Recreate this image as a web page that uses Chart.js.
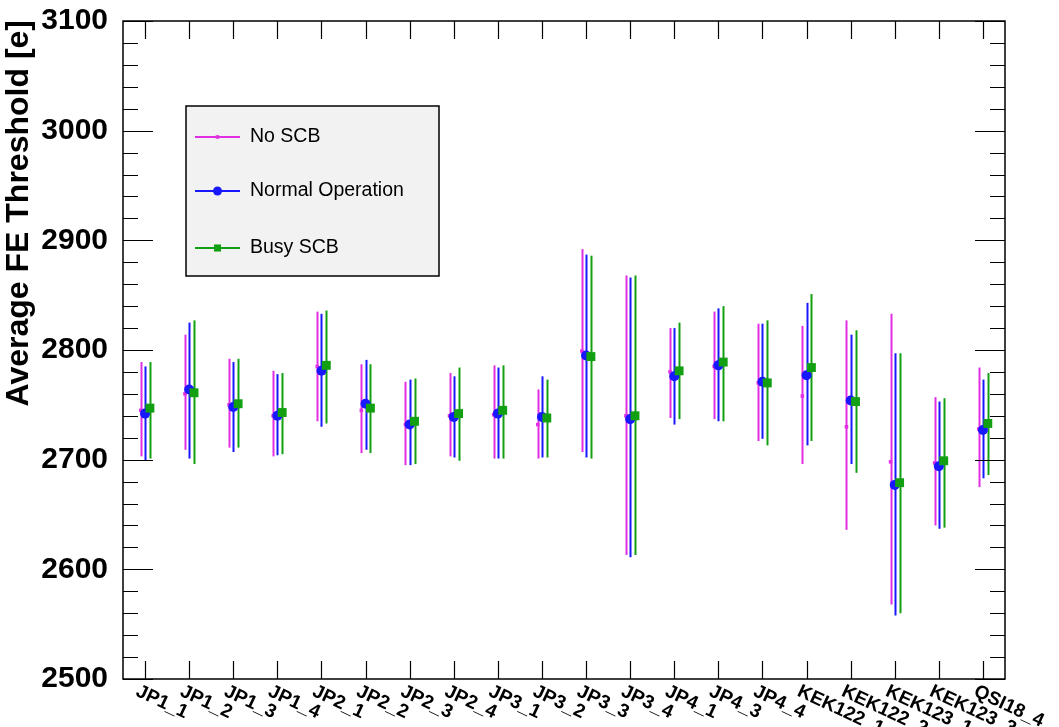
<!DOCTYPE html>
<html lang="en">
<head>
    <meta charset="UTF-8">
    <title>Average FE Threshold</title>
    <script src="https://cdn.jsdelivr.net/npm/chart.js"></script>
    <style>
        body {
            margin: 0;
            background-color: #FFFFFF;
        }
    </style>
</head>
<body>
    <canvas id="myChart" width="1059" height="727"></canvas>

    <script>
        var categories = ['JP1_1', 'JP1_2', 'JP1_3', 'JP1_4', 'JP2_1', 'JP2_2', 'JP2_3', 'JP2_4', 'JP3_1', 'JP3_2',
                          'JP3_3', 'JP3_4', 'JP4_1', 'JP4_3', 'JP4_4', 'KEK122_1', 'KEK122_2', 'KEK123_1', 'KEK123_3', 'QSI18_4'];

        // No SCB
        var noScb     = [2745, 2760, 2750, 2740, 2785, 2745, 2732, 2740, 2741, 2732, 2799, 2740, 2780, 2785, 2770, 2758, 2730, 2698, 2697, 2728];
        var noScbLow  = [2703, 2709, 2711, 2703, 2735, 2706, 2695, 2703, 2701, 2701, 2707, 2613, 2738, 2737, 2717, 2696, 2636, 2568, 2640, 2675];
        var noScbHigh = [2789, 2814, 2792, 2781, 2835, 2787, 2771, 2779, 2786, 2764, 2892, 2868, 2820, 2835, 2824, 2822, 2827, 2833, 2757, 2784];

        // Normal Operation
        var normal     = [2742, 2764, 2748, 2740, 2781, 2751, 2732, 2739, 2742, 2739, 2795, 2737, 2776, 2786, 2771, 2777, 2754, 2677, 2694, 2727];
        var normalLow  = [2699, 2701, 2707, 2704, 2730, 2709, 2695, 2702, 2701, 2702, 2702, 2611, 2732, 2735, 2719, 2713, 2696, 2558, 2637, 2683];
        var normalHigh = [2785, 2825, 2789, 2778, 2833, 2791, 2773, 2776, 2784, 2776, 2887, 2866, 2820, 2838, 2824, 2843, 2814, 2797, 2753, 2773];

        // Busy SCB
        var busy     = [2747, 2761, 2751, 2743, 2786, 2747, 2735, 2742, 2745, 2738, 2794, 2740, 2781, 2789, 2770, 2784, 2753, 2679, 2699, 2733];
        var busyLow  = [2701, 2696, 2711, 2705, 2733, 2706, 2696, 2699, 2701, 2702, 2701, 2613, 2737, 2735, 2713, 2717, 2688, 2560, 2638, 2686];
        var busyHigh = [2789, 2827, 2792, 2779, 2836, 2787, 2774, 2784, 2786, 2773, 2886, 2868, 2825, 2840, 2827, 2851, 2818, 2797, 2756, 2779];

        var yTicks = [2500, 2600, 2700, 2800, 2900, 3000, 3100];

        var fontFamily = "'Liberation Sans', Arial, Helvetica, sans-serif";

        function points(values, low, high, shift) {
            return values.map(function(v, i) {
                return { x: i + 0.5 + shift, y: v, low: low[i], high: high[i] };
            });
        }

        var ctx = document.getElementById('myChart').getContext('2d');

        // ROOT-like frame, inner ticks, error bars, labels and legend
        var rootStyle = {
            id: 'rootStyle',
            beforeDatasetsDraw: function(chart) {
                var c = chart.ctx, xs = chart.scales.x, ys = chart.scales.y;
                chart.data.datasets.forEach(function(ds) {
                    c.save();
                    c.strokeStyle = ds.borderColor;
                    c.lineWidth = 2;
                    ds.data.forEach(function(p) {
                        var px = Math.round(xs.getPixelForValue(p.x)) + 0.5;
                        c.beginPath();
                        c.moveTo(px, ys.getPixelForValue(p.low));
                        c.lineTo(px, ys.getPixelForValue(p.high));
                        c.stroke();
                    });
                    c.restore();
                });
            },
            afterDraw: function(chart) {
                var c = chart.ctx, a = chart.chartArea, xs = chart.scales.x, ys = chart.scales.y;
                c.save();
                c.strokeStyle = '#000';
                c.lineWidth = 1.5;
                c.strokeRect(a.left, a.top, a.right - a.left, a.bottom - a.top);

                // y ticks on both sides, every 20
                c.lineWidth = 1.2;
                for (var k = 0; k <= 30; k++) {
                    var py = Math.round(ys.getPixelForValue(2500 + 20 * k)) + 0.5;
                    var len = (k % 5 === 0) ? 30 : 15;
                    c.beginPath();
                    c.moveTo(a.left, py); c.lineTo(a.left + len, py);
                    c.moveTo(a.right, py); c.lineTo(a.right - len, py);
                    c.stroke();
                }
                // x ticks on bottom and top
                categories.forEach(function(cat, i) {
                    var px = Math.round(xs.getPixelForValue(i + 0.5)) + 0.5;
                    c.beginPath();
                    c.moveTo(px, a.bottom); c.lineTo(px, a.bottom - 18);
                    c.moveTo(px, a.top); c.lineTo(px, a.top + 18);
                    c.stroke();
                });

                // x labels, slanted
                c.fillStyle = '#000';
                c.font = 'bold 19px ' + fontFamily;
                c.textAlign = 'left';
                c.textBaseline = 'top';
                categories.forEach(function(cat, i) {
                    var px = xs.getPixelForValue(i + 0.5);
                    c.save();
                    c.translate(px - 4, a.bottom + 3);
                    c.rotate(25 * Math.PI / 180);
                    c.fillText(cat, 0, 0);
                    c.restore();
                });

                // y title
                c.save();
                c.font = 'bold 32px ' + fontFamily;
                c.textAlign = 'right';
                c.textBaseline = 'alphabetic';
                c.translate(28, 20);
                c.rotate(-Math.PI / 2);
                c.fillText('Average FE Threshold [e]', 0, 0);
                c.restore();

                // legend box
                c.fillStyle = '#f2f2f2';
                c.fillRect(186, 106, 253, 170);
                c.lineWidth = 1.5;
                c.strokeStyle = '#000';
                c.strokeRect(186, 106, 253, 170);
                var rows = [137, 191, 248];
                chart.data.datasets.forEach(function(ds, i) {
                    var ry = rows[i];
                    c.strokeStyle = ds.borderColor;
                    c.lineWidth = 2;
                    c.beginPath();
                    c.moveTo(195, ry); c.lineTo(240, ry);
                    c.stroke();
                    c.fillStyle = ds.borderColor;
                    if (ds.pointStyle === 'circle') {
                        c.beginPath();
                        c.arc(217.5, ry, 4.5, 0, Math.PI * 2);
                        c.fill();
                    } else {
                        var s = Math.min(ds.pointRadius, 5) * Math.SQRT1_2;
                        c.fillRect(217.5 - s, ry - s, 2 * s, 2 * s);
                    }
                    c.fillStyle = '#000';
                    c.font = '19.5px ' + fontFamily;
                    c.textAlign = 'left';
                    c.textBaseline = 'middle';
                    c.fillText(ds.label, 250, ry);
                });
                c.restore();
            }
        };

        var myChart = new Chart(ctx, {
            type: 'scatter',
            data: {
                datasets: [{
                    label: 'No SCB',
                    data: points(noScb, noScbLow, noScbHigh, -0.095),
                    borderColor: '#e22ee2',
                    backgroundColor: '#e22ee2',
                    pointStyle: 'rect',
                    pointRadius: 2.5,
                    pointBorderWidth: 0,
                    order: 3
                }, {
                    label: 'Normal Operation',
                    data: points(normal, normalLow, normalHigh, 0),
                    borderColor: '#1818ff',
                    backgroundColor: '#1818ff',
                    pointStyle: 'circle',
                    pointRadius: 5,
                    pointBorderWidth: 0,
                    order: 2
                }, {
                    label: 'Busy SCB',
                    data: points(busy, busyLow, busyHigh, 0.11),
                    borderColor: '#12a012',
                    backgroundColor: '#12a012',
                    pointStyle: 'rect',
                    pointRadius: 6.3,
                    pointBorderWidth: 0,
                    order: 1
                }]
            },
            options: {
                responsive: false,
                animation: false,
                layout: {
                    padding: { top: 21, right: 54, left: 0, bottom: 0 }
                },
                scales: {
                    x: {
                        type: 'linear',
                        min: 0,
                        max: categories.length,
                        grid: { display: false, drawTicks: false },
                        border: { display: false },
                        ticks: { display: false },
                        afterFit: function(scale) {
                            scale.height = 48;
                            scale.paddingLeft = 0;
                            scale.paddingRight = 0;
                        }
                    },
                    y: {
                        min: 2500,
                        max: 3100,
                        grid: { display: false, drawTicks: false },
                        border: { display: false },
                        afterBuildTicks: function(scale) {
                            scale.ticks = yTicks.map(function(v) { return { value: v }; });
                        },
                        ticks: {
                            color: '#000',
                            padding: 15,
                            font: { family: fontFamily, size: 30, weight: 'bold' },
                            callback: function(value) { return String(value); }
                        },
                        afterFit: function(scale) {
                            scale.width = 123;
                            scale.paddingTop = 0;
                            scale.paddingBottom = 0;
                        }
                    }
                },
                plugins: {
                    legend: { display: false },
                    tooltip: { enabled: false }
                }
            },
            plugins: [rootStyle]
        });
    </script>
</body>
</html>
